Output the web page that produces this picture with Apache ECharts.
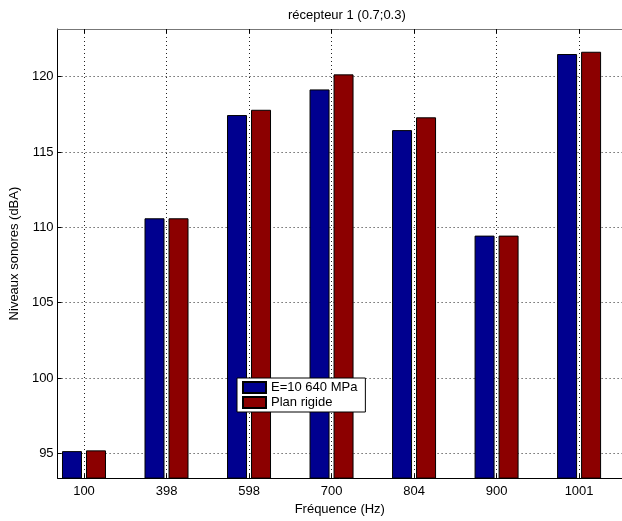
<!DOCTYPE html>
<html><head><meta charset="utf-8">
<script src="https://cdn.jsdelivr.net/npm/echarts@6/dist/echarts.min.js"></script>
<style>html,body{margin:0;padding:0;background:#fff}#c{width:622px;height:521px}</style>
</head><body><div id="c"></div>
<script>
const categories = ['100', '398', '598', '700', '804', '900', '1001'];
const seriesNames = ['E=10 640 MPa', 'Plan rigide'];
const valuesE = [95.15, 110.6, 117.45, 119.15, 116.45, 109.45, 121.5];
const valuesRigide = [95.2, 110.6, 117.8, 120.15, 117.3, 109.45, 121.65];
const yTicks = [95, 100, 105, 110, 115, 120];
const xPositions = categories.map((c, i) => i + 1);

const chart = echarts.init(document.getElementById('c'), null, {renderer: 'canvas'});
const font = 'Liberation Sans, Arial, Helvetica, sans-serif';
const gridLine = {show: true, lineStyle: {color: '#222', type: [1, 3], width: 1}};
chart.setOption({
  animation: false,
  backgroundColor: '#fff',
  title: {
    text: 'récepteur 1 (0.7;0.3)', left: 283, top: 4,
    textStyle: {fontFamily: font, fontSize: 13, fontWeight: 'normal', color: '#000'}
  },
  legend: {
    orient: 'vertical', left: 237, top: 378,
    backgroundColor: '#fff', borderColor: '#000', borderWidth: 1,
    padding: [3, 8, 3, 5], itemGap: 2, itemWidth: 23, itemHeight: 11,
    icon: 'rect',
    textStyle: {fontFamily: font, fontSize: 13, color: '#000'},
    data: seriesNames
  },
  grid: {left: 55, top: 29, width: 575, height: 455, containLabel: false},
  xAxis: [{
    type: 'value', min: 0.68, max: 7.52, position: 'bottom',
    name: 'Fréquence (Hz)', nameLocation: 'middle', nameGap: 22,
    nameTextStyle: {fontFamily: font, fontSize: 13, color: '#000'},
    axisLine: {show: true, onZero: false, lineStyle: {color: '#000', width: 1}},
    axisTick: {show: true, inside: true, length: 4, customValues: xPositions, lineStyle: {color: '#000'}},
    axisLabel: {customValues: xPositions, fontFamily: font, fontSize: 13, color: '#000', margin: 7,
      formatter: v => categories[Math.round(v) - 1] || ''},
    splitLine: gridLine
  }, {
    type: 'value', min: 0.68, max: 7.52, position: 'top',
    axisLine: {show: true, onZero: false, lineStyle: {color: '#777', width: 1}},
    axisTick: {show: true, inside: true, length: 4, customValues: xPositions, lineStyle: {color: '#000'}},
    axisLabel: {show: false},
    splitLine: {show: false}
  }],
  yAxis: {
    type: 'value', min: 93.36, max: 123.16,
    name: 'Niveaux sonores (dBA)', nameLocation: 'middle', nameGap: 26,
    nameTextStyle: {fontFamily: font, fontSize: 13, color: '#000'},
    axisLine: {show: true, onZero: false, lineStyle: {color: '#000', width: 1}},
    axisTick: {show: true, inside: true, length: 4, customValues: yTicks, lineStyle: {color: '#000'}},
    axisLabel: {customValues: yTicks, fontFamily: font, fontSize: 13, color: '#000', margin: 4},
    splitLine: gridLine
  },
  series: [{
    name: seriesNames[0], type: 'bar', xAxisIndex: 0,
    data: valuesE.map((v, i) => [xPositions[i], v]),
    barWidth: 20, barGap: '20%',
    itemStyle: {color: '#00008F', borderColor: '#000', borderWidth: 1}
  }, {
    name: seriesNames[1], type: 'bar', xAxisIndex: 0,
    data: valuesRigide.map((v, i) => [xPositions[i], v]),
    barWidth: 20, barGap: '20%',
    itemStyle: {color: '#8C0000', borderColor: '#000', borderWidth: 1}
  }]
});
</script></body></html>
